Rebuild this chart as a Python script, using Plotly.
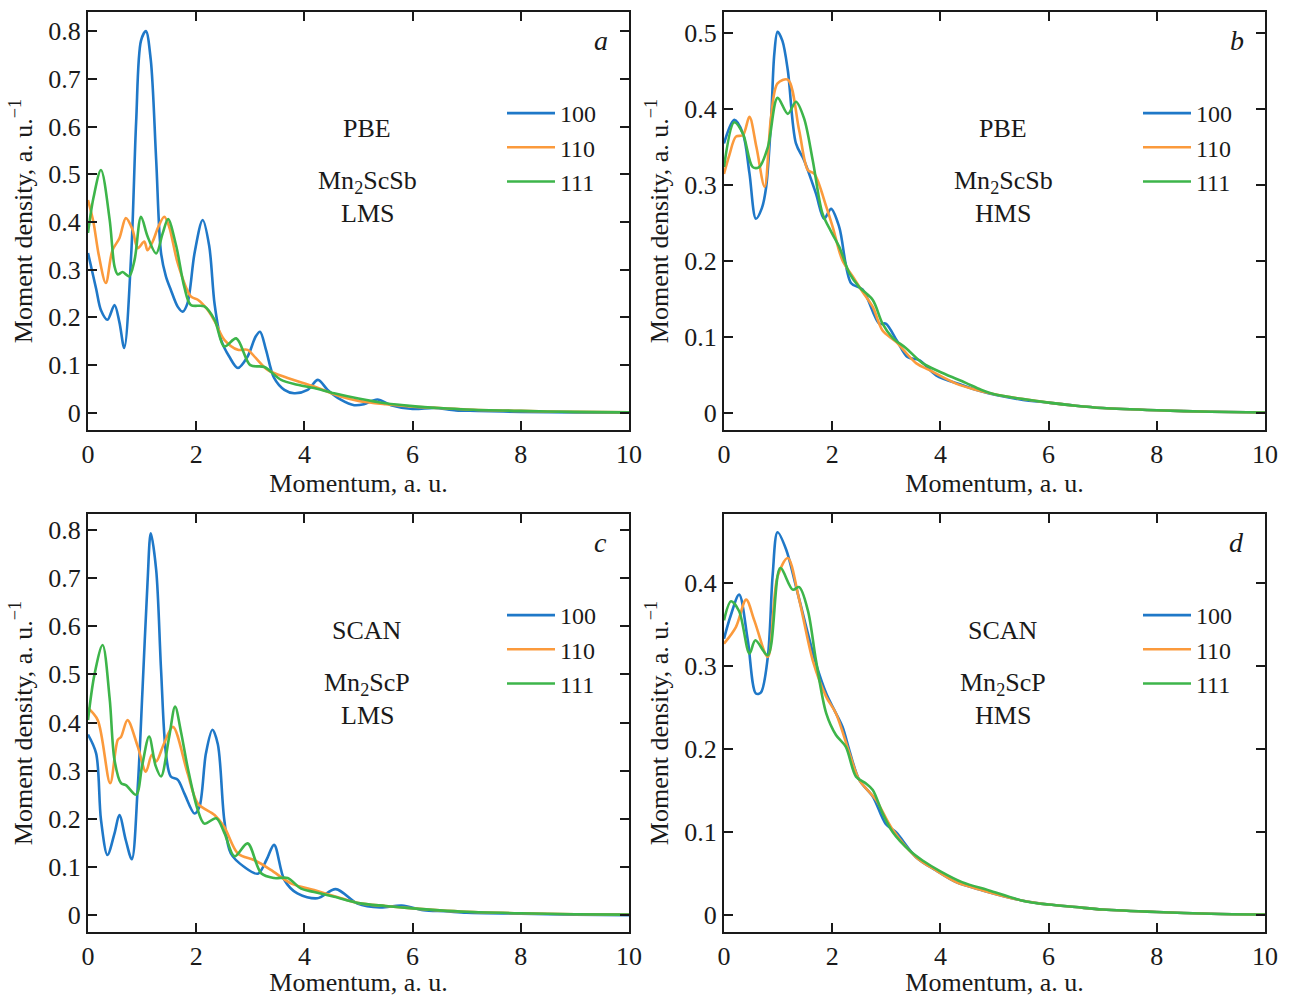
import plotly.graph_objects as go

# ---------------- data ----------------
series_names = ["100", "110", "111"]
colors = ["#1f78c8", "#fb9a3c", "#3db54a"]

# panel a : PBE Mn2ScSb LMS
a100_x = [0, 0.15, 0.24, 0.36, 0.49, 0.58, 0.67, 0.80, 0.89, 0.98, 1.07, 1.16, 1.26, 1.35, 1.44, 1.53, 1.66, 1.75, 1.84, 1.97, 2.12, 2.24, 2.34, 2.46, 2.61, 2.77, 2.95, 3.10, 3.18, 3.29, 3.44, 3.63, 3.81, 4.06, 4.25, 4.43, 4.68, 4.92, 5.1, 5.35, 5.6, 6.0, 6.4, 6.8, 7.2, 8.0, 9.0, 10.0]
a100_y = [0.335, 0.26, 0.215, 0.195, 0.226, 0.19, 0.136, 0.335, 0.61, 0.78, 0.80, 0.74, 0.53, 0.335, 0.286, 0.258, 0.222, 0.212, 0.23, 0.335, 0.404, 0.35, 0.228, 0.153, 0.118, 0.094, 0.118, 0.160, 0.170, 0.132, 0.073, 0.048, 0.041, 0.048, 0.069, 0.048, 0.027, 0.016, 0.018, 0.028, 0.016, 0.008, 0.01, 0.005, 0.004, 0.002, 0.001, 0.0]
a110_x = [0, 0.1, 0.2, 0.33, 0.45, 0.58, 0.70, 0.82, 0.92, 1.04, 1.10, 1.2, 1.3, 1.41, 1.5, 1.66, 1.9, 2.03, 2.21, 2.35, 2.52, 2.77, 2.95, 3.1, 3.32, 3.69, 4.18, 4.67, 5.0, 5.5, 6.0, 6.5, 7.0, 8.0, 9.0, 10.0]
a110_y = [0.446, 0.40, 0.33, 0.272, 0.34, 0.366, 0.408, 0.385, 0.345, 0.359, 0.341, 0.36, 0.39, 0.411, 0.39, 0.313, 0.244, 0.237, 0.216, 0.19, 0.153, 0.132, 0.132, 0.115, 0.090, 0.073, 0.055, 0.034, 0.025, 0.018, 0.013, 0.01, 0.007, 0.004, 0.002, 0.001]
a111_x = [0, 0.1, 0.24, 0.40, 0.49, 0.55, 0.64, 0.76, 0.86, 0.98, 1.10, 1.26, 1.38, 1.48, 1.63, 1.78, 1.90, 2.15, 2.34, 2.52, 2.74, 3.0, 3.26, 3.57, 3.87, 4.18, 4.55, 5.0, 5.5, 6.0, 6.5, 7.0, 8.0, 9.0, 10.0]
a111_y = [0.377, 0.45, 0.509, 0.405, 0.307, 0.29, 0.295, 0.286, 0.32, 0.411, 0.37, 0.334, 0.376, 0.406, 0.35, 0.264, 0.226, 0.223, 0.195, 0.139, 0.156, 0.1, 0.096, 0.069, 0.059, 0.052, 0.041, 0.03, 0.02, 0.014, 0.01, 0.007, 0.004, 0.002, 0.001]

# panel b : PBE Mn2ScSb HMS
b100_x = [0, 0.19, 0.35, 0.47, 0.59, 0.70, 0.78, 0.87, 0.93, 0.99, 1.08, 1.18, 1.33, 1.48, 1.70, 1.85, 1.98, 2.13, 2.35, 2.56, 2.87, 2.99, 3.2, 3.39, 3.61, 3.92, 4.41, 4.75, 5.03, 5.5, 6.0, 6.5, 7.0, 8.0, 9.0, 10.0]
b100_y = [0.355, 0.386, 0.368, 0.316, 0.256, 0.27, 0.298, 0.386, 0.473, 0.502, 0.49, 0.451, 0.355, 0.333, 0.289, 0.256, 0.269, 0.245, 0.171, 0.163, 0.118, 0.118, 0.095, 0.074, 0.07, 0.05, 0.037, 0.029, 0.024, 0.018, 0.014, 0.01, 0.007, 0.004, 0.002, 0.001]
b110_x = [0, 0.1, 0.22, 0.35, 0.47, 0.6, 0.75, 0.87, 0.99, 1.18, 1.39, 1.55, 1.67, 1.89, 2.01, 2.19, 2.38, 2.56, 2.75, 2.93, 3.18, 3.55, 3.79, 4.29, 4.65, 5.0, 5.5, 6.0, 6.5, 7.0, 8.0, 9.0, 10.0]
b110_y = [0.315, 0.34, 0.364, 0.366, 0.39, 0.35, 0.298, 0.39, 0.434, 0.439, 0.372, 0.32, 0.315, 0.272, 0.245, 0.201, 0.18, 0.16, 0.14, 0.109, 0.094, 0.066, 0.057, 0.039, 0.031, 0.025, 0.019, 0.014, 0.01, 0.007, 0.004, 0.002, 0.001]
b111_x = [0, 0.19, 0.35, 0.53, 0.65, 0.81, 0.99, 1.18, 1.33, 1.48, 1.64, 1.82, 1.98, 2.13, 2.32, 2.5, 2.75, 2.93, 3.12, 3.36, 3.67, 4.04, 4.47, 4.75, 5.0, 5.5, 6.0, 6.5, 7.0, 8.0, 9.0, 10.0]
b111_y = [0.324, 0.383, 0.368, 0.324, 0.324, 0.35, 0.415, 0.394, 0.41, 0.388, 0.333, 0.263, 0.239, 0.219, 0.184, 0.166, 0.149, 0.118, 0.099, 0.086, 0.066, 0.053, 0.04, 0.031, 0.025, 0.019, 0.014, 0.01, 0.007, 0.004, 0.002, 0.001]

# panel c : SCAN Mn2ScP LMS
c100_x = [0, 0.15, 0.24, 0.36, 0.49, 0.58, 0.70, 0.81, 0.92, 1.01, 1.10, 1.16, 1.26, 1.35, 1.44, 1.53, 1.66, 1.78, 1.97, 2.06, 2.18, 2.30, 2.40, 2.52, 2.64, 2.89, 3.14, 3.3, 3.44, 3.63, 3.87, 4.24, 4.58, 4.98, 5.4, 5.8, 6.2, 6.6, 7.0, 8.0, 9.0, 10.0]
c100_y = [0.375, 0.336, 0.198, 0.125, 0.17, 0.208, 0.155, 0.116, 0.267, 0.474, 0.69, 0.793, 0.717, 0.51, 0.336, 0.288, 0.281, 0.253, 0.211, 0.225, 0.336, 0.385, 0.355, 0.197, 0.128, 0.1, 0.086, 0.115, 0.146, 0.073, 0.045, 0.035, 0.054, 0.024, 0.016, 0.02, 0.01, 0.008, 0.005, 0.003, 0.001, 0.0]
c110_x = [0, 0.18, 0.41, 0.55, 0.61, 0.73, 0.92, 1.07, 1.18, 1.26, 1.4, 1.57, 1.84, 2.03, 2.34, 2.52, 2.77, 3.08, 3.38, 3.75, 4.18, 4.68, 5.0, 5.5, 6.0, 6.5, 7.0, 8.0, 9.0, 10.0]
c110_y = [0.43, 0.405, 0.274, 0.364, 0.37, 0.405, 0.35, 0.298, 0.333, 0.319, 0.355, 0.391, 0.295, 0.232, 0.208, 0.183, 0.128, 0.114, 0.094, 0.066, 0.052, 0.035, 0.025, 0.019, 0.014, 0.01, 0.007, 0.004, 0.002, 0.001]
c111_x = [0, 0.12, 0.27, 0.4, 0.49, 0.61, 0.7, 0.89, 1.0, 1.13, 1.25, 1.35, 1.5, 1.61, 1.72, 1.84, 2.03, 2.15, 2.37, 2.52, 2.71, 2.95, 3.2, 3.44, 3.69, 3.94, 4.18, 4.55, 5.0, 5.5, 6.0, 6.5, 7.0, 8.0, 9.0, 10.0]
c111_y = [0.405, 0.5, 0.561, 0.45, 0.322, 0.274, 0.27, 0.25, 0.31, 0.371, 0.31, 0.288, 0.37, 0.433, 0.38, 0.308, 0.218, 0.19, 0.201, 0.171, 0.122, 0.149, 0.087, 0.077, 0.077, 0.055, 0.048, 0.038, 0.025, 0.019, 0.014, 0.01, 0.007, 0.004, 0.002, 0.001]

# panel d : SCAN Mn2ScP HMS
d100_x = [0, 0.12, 0.28, 0.44, 0.59, 0.68, 0.81, 0.9, 0.99, 1.15, 1.33, 1.52, 1.7, 1.89, 2.04, 2.19, 2.32, 2.5, 2.75, 2.99, 3.18, 3.55, 3.92, 4.29, 4.78, 5.5, 6.0, 6.5, 7.0, 8.0, 9.0, 10.0]
d100_y = [0.333, 0.36, 0.386, 0.331, 0.267, 0.268, 0.311, 0.41, 0.461, 0.44, 0.396, 0.347, 0.303, 0.267, 0.247, 0.227, 0.198, 0.163, 0.143, 0.11, 0.1, 0.07, 0.054, 0.04, 0.03, 0.018, 0.013, 0.01, 0.007, 0.004, 0.002, 0.001]
d110_x = [0, 0.22, 0.41, 0.56, 0.81, 0.99, 1.18, 1.39, 1.64, 1.89, 2.07, 2.32, 2.5, 2.81, 3.1, 3.55, 3.92, 4.29, 4.78, 5.5, 6.0, 6.5, 7.0, 8.0, 9.0, 10.0]
d110_y = [0.327, 0.347, 0.38, 0.355, 0.311, 0.408, 0.43, 0.38, 0.307, 0.263, 0.243, 0.195, 0.163, 0.139, 0.105, 0.07, 0.054, 0.04, 0.03, 0.018, 0.013, 0.01, 0.007, 0.004, 0.002, 0.001]
d111_x = [0, 0.13, 0.28, 0.47, 0.58, 0.81, 1.04, 1.27, 1.39, 1.55, 1.7, 1.89, 2.07, 2.25, 2.44, 2.62, 2.75, 2.93, 3.12, 3.43, 3.67, 4.0, 4.4, 4.9, 5.5, 6.0, 6.5, 7.0, 8.0, 9.0, 10.0]
d111_y = [0.355, 0.378, 0.366, 0.315, 0.331, 0.313, 0.418, 0.392, 0.395, 0.367, 0.307, 0.243, 0.217, 0.203, 0.167, 0.159, 0.151, 0.123, 0.1, 0.078, 0.066, 0.053, 0.04, 0.03, 0.018, 0.013, 0.01, 0.007, 0.004, 0.002, 0.001]

panel_letters = ["a", "b", "c", "d"]
method_labels = ["PBE", "PBE", "SCAN", "SCAN"]
compound_labels = ["Mn<sub>2</sub>ScSb", "Mn<sub>2</sub>ScSb", "Mn<sub>2</sub>ScP", "Mn<sub>2</sub>ScP"]
state_labels = ["LMS", "HMS", "LMS", "HMS"]

x_tickvals = [0, 2, 4, 6, 8, 10]
x_ticktext = ["0", "2", "4", "6", "8", "10"]
y_ticks_a = [0, 0.1, 0.2, 0.3, 0.4, 0.5, 0.6, 0.7, 0.8]
y_ticks_b = [0, 0.1, 0.2, 0.3, 0.4, 0.5]
y_ticks_d = [0, 0.1, 0.2, 0.3, 0.4]
y_ranges = [[-0.036, 0.840], [-0.022, 0.528], [-0.035, 0.833], [-0.020, 0.483]]

x_title = "Momentum, a. u."
y_title = "Moment density, a. u.<sup>\u22121</sup>"

# ---------------- figure ----------------
FONT = "Liberation Serif, Times New Roman, serif"
FS = 26
W, H = 1289, 997

panels = [
    [(a100_x, a100_y), (a110_x, a110_y), (a111_x, a111_y)],
    [(b100_x, b100_y), (b110_x, b110_y), (b111_x, b111_y)],
    [(c100_x, c100_y), (c110_x, c110_y), (c111_x, c111_y)],
    [(d100_x, d100_y), (d110_x, d110_y), (d111_x, d111_y)],
]
yticks = [y_ticks_a, y_ticks_b, y_ticks_a, y_ticks_d]

# plot boxes in pixels (left, right, top, bottom)
boxes = [(88, 629, 12, 430), (724, 1265, 12, 430), (88, 629, 514, 932), (724, 1265, 514, 932)]

fig = go.Figure()
legend_ids = ["legend", "legend2", "legend3", "legend4"]

for p in range(4):
    ax = "" if p == 0 else str(p + 1)
    for s in range(3):
        xs, ys = panels[p][s]
        fig.add_trace(go.Scatter(
            x=xs, y=ys, mode="lines", name=series_names[s],
            line=dict(color=colors[s], width=2.6, shape="spline", smoothing=0.9),
            xaxis="x" + ax, yaxis="y" + ax, legend=legend_ids[p],
        ))

layout = dict(
    width=W, height=H, margin=dict(l=0, r=0, t=0, b=0, autoexpand=False),
    paper_bgcolor="white", plot_bgcolor="white",
    font=dict(family=FONT, size=FS, color="#1a1a1a"),
)

annotations = []
for p in range(4):
    l, r, t, b = boxes[p]
    ax = "" if p == 0 else str(p + 1)
    xd = [l / W, r / W]
    yd = [1 - b / H, 1 - t / H]
    layout["xaxis" + ax] = dict(
        domain=xd, range=[0, 10], anchor="y" + ax, automargin=False,
        tickvals=x_tickvals, ticktext=x_ticktext,
        ticks="inside", ticklen=9, tickwidth=1.5, tickcolor="#1a1a1a",
        showline=True, linecolor="#1a1a1a", linewidth=2, mirror="ticks",
        showgrid=False, zeroline=False,
        tickfont=dict(family=FONT, size=FS),
        title=dict(text=x_title, font=dict(family=FONT, size=FS), standoff=2),
    )
    layout["yaxis" + ax] = dict(
        domain=yd, range=y_ranges[p], anchor="x" + ax, automargin=False,
        tickvals=yticks[p], ticktext=[("0" if v == 0 else f"{v:.1f}") for v in yticks[p]],
        ticks="inside", ticklen=9, tickwidth=1.5, tickcolor="#1a1a1a",
        showline=True, linecolor="#1a1a1a", linewidth=2, mirror="ticks",
        showgrid=False, zeroline=False,
        tickfont=dict(family=FONT, size=FS),
        title=dict(text=y_title, font=dict(family=FONT, size=FS), standoff=8),
    )
    xr = "x" + ax + " domain"
    yr = "y" + ax + " domain"
    common = dict(xref=xr, yref=yr, xanchor="center", yanchor="middle", showarrow=False)
    annotations.append(dict(text=method_labels[p], x=0.516, y=0.722,
                            font=dict(family=FONT, size=FS), **common))
    annotations.append(dict(text=compound_labels[p], x=0.516, y=0.593,
                            font=dict(family=FONT, size=FS), **common))
    annotations.append(dict(text=state_labels[p], x=0.516, y=0.518,
                            font=dict(family=FONT, size=FS), **common))
    annotations.append(dict(text="<i>" + panel_letters[p] + "</i>", x=0.948, y=0.933,
                            font=dict(family=FONT, size=28), **common))
    layout[legend_ids[p]] = dict(
        x=(l + 414) / W, y=1 - (t + 79) / H, xanchor="left", yanchor="top",
        bgcolor="rgba(0,0,0,0)", borderwidth=0,
        font=dict(family=FONT, size=24), tracegroupgap=0,
        itemwidth=48,
    )

layout["annotations"] = annotations
layout["showlegend"] = True
fig.update_layout(**layout)

fig.write_html(
    "out.html",
    config={"displayModeBar": False},
    post_script="document.body.style.margin='0';document.body.style.overflow='hidden';",
)
